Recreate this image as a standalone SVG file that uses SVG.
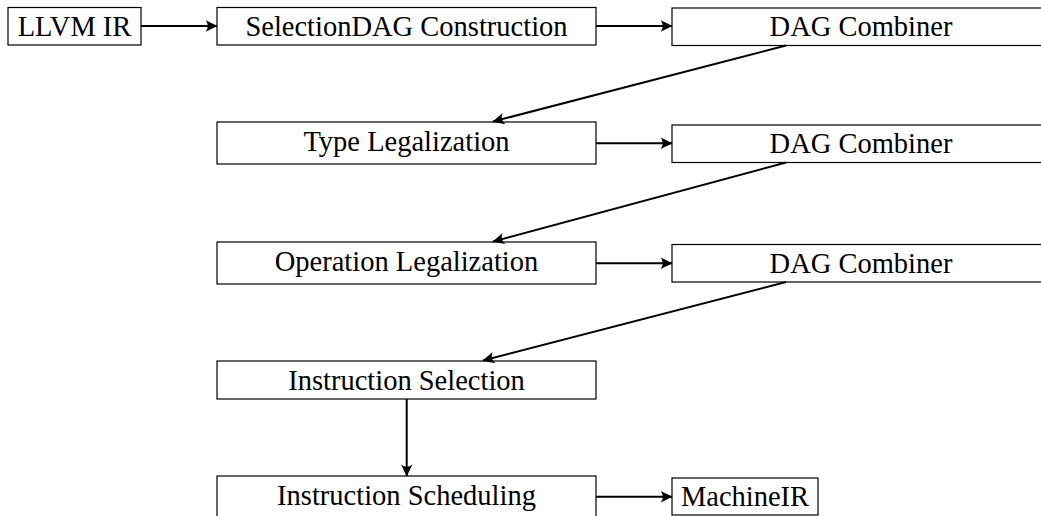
<svg xmlns="http://www.w3.org/2000/svg" width="1041" height="516" viewBox="0 0 1041 516">
<style>
.box{fill:#fff;stroke:#000;stroke-width:1.2}
text{font-family:'Liberation Serif','DejaVu Serif',serif;font-size:28.5px;fill:#000;text-anchor:middle}
.edge{stroke:#000;stroke-width:2;fill:none;marker-end:url(#arr)}
</style>
<defs>
<marker id="arr" markerUnits="userSpaceOnUse" markerWidth="16" markerHeight="16" viewBox="-12 -7 14 14" refX="0" refY="0" orient="auto">
<path d="M0.5,0 L-10,-5 Q-6,0 -10,5 Z" fill="#000"/>
</marker>
</defs>
<rect width="1041" height="516" fill="#fff"/>
<g id="llvmir"><rect class="box" x="8" y="7.5" width="133" height="37.5"/><text x="74.5" y="36">LLVM IR</text></g>
<g id="seldag"><rect class="box" x="217" y="7.5" width="379" height="37.5"/><text x="406.5" y="36">SelectionDAG Construction</text></g>
<g id="dag1"><rect class="box" x="672" y="8" width="379" height="37.5"/><text x="861" y="36">DAG Combiner</text></g>
<g id="typeleg"><rect class="box" x="217" y="122" width="379" height="42"/><text x="406.5" y="151">Type Legalization</text></g>
<g id="dag2"><rect class="box" x="672" y="125" width="379" height="37.5"/><text x="861" y="153">DAG Combiner</text></g>
<g id="opleg"><rect class="box" x="217" y="242" width="379" height="42"/><text x="406.5" y="271">Operation Legalization</text></g>
<g id="dag3"><rect class="box" x="672" y="244.5" width="379" height="37.5"/><text x="861" y="273">DAG Combiner</text></g>
<g id="isel"><rect class="box" x="217" y="361" width="379" height="38"/><text x="406.5" y="390">Instruction Selection</text></g>
<g id="isched"><rect class="box" x="217" y="476" width="379" height="42"/><text x="406.5" y="505">Instruction Scheduling</text></g>
<g id="mir"><rect class="box" x="672" y="478" width="146" height="37"/><text x="745" y="506">MachineIR</text></g>
<g id="connectors">
<line class="edge" x1="141" y1="26" x2="217" y2="26"/>
<line class="edge" x1="596" y1="26" x2="672" y2="26"/>
<line class="edge" x1="786" y1="45.5" x2="493" y2="121.5"/>
<line class="edge" x1="596" y1="143.3" x2="672" y2="143.3"/>
<line class="edge" x1="786" y1="162.5" x2="493" y2="241.5"/>
<line class="edge" x1="596" y1="263.3" x2="672" y2="263.3"/>
<line class="edge" x1="786" y1="282" x2="483" y2="360.5"/>
<line class="edge" x1="406.7" y1="399" x2="406.7" y2="476"/>
<line class="edge" x1="596" y1="496.7" x2="672" y2="496.7"/>
</g>
</svg>
